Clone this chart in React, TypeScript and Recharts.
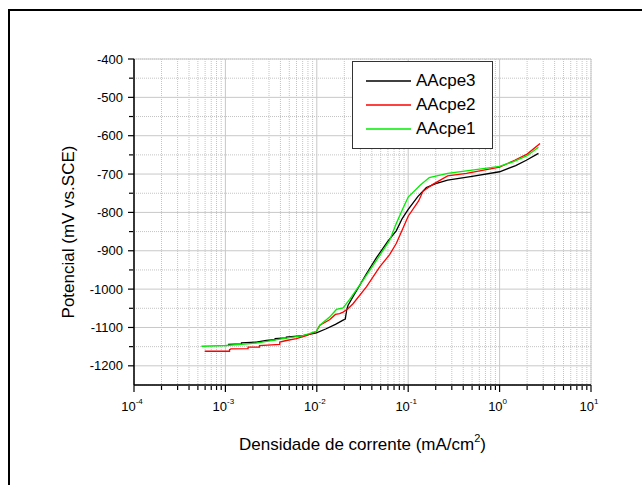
import React from 'react';
import {
  LineChart,
  Line,
  XAxis,
  YAxis,
  CartesianGrid,
  Legend,
} from 'recharts';

// Polarization curves, current density in mA/cm2, potential in mV vs SCE
const aacpe3Current = [
  0.00107, 0.0015, 0.0015, 0.00218, 0.00281, 0.0035, 0.0035, 0.00465, 0.00465, 0.00706,
  0.0099, 0.0125, 0.016, 0.0194, 0.0205, 0.0208, 0.021, 0.0212, 0.022, 0.026, 0.0349,
  0.045, 0.06, 0.074, 0.086, 0.1, 0.128, 0.158, 0.2, 0.27, 0.5, 1.0, 1.5, 1.96, 2.66,
];
const aacpe3Potential = [
  -1144, -1143, -1140, -1138, -1134, -1132, -1129, -1127, -1125, -1121,
  -1114, -1104, -1092, -1081, -1078, -1068, -1062, -1055, -1042, -1012, -960,
  -918, -875, -848, -816, -792, -758, -735, -725, -716, -706, -694, -678, -664, -646,
];

const aacpe2Current = [
  0.000594, 0.00111, 0.00111, 0.00115, 0.00177, 0.00177, 0.00236, 0.00236, 0.00393, 0.00393,
  0.00465, 0.00598, 0.00769, 0.0099, 0.0108, 0.0138, 0.016, 0.0178, 0.0194, 0.0219, 0.0249,
  0.0349, 0.0488, 0.0626, 0.074, 0.086, 0.1, 0.13, 0.145, 0.186, 0.27, 0.434, 1.0, 1.46, 2.0, 2.77,
];
const aacpe2Potential = [
  -1162, -1162, -1158, -1156, -1155, -1151, -1151, -1147, -1144, -1138,
  -1134, -1129, -1121, -1110, -1094, -1080, -1066, -1064, -1060, -1051, -1038,
  -994, -942, -910, -881, -846, -810, -770, -745, -727, -705, -698, -682, -664, -648, -620,
];

const aacpe1Current = [
  0.000546, 0.00102, 0.00218, 0.00427, 0.00706, 0.0099, 0.0108, 0.0138, 0.0164, 0.0194,
  0.0229, 0.032, 0.0449, 0.0626, 0.074, 0.086, 0.1, 0.135, 0.17, 0.27, 0.5, 1.0, 1.4, 2.0, 2.66,
];
const aacpe1Potential = [
  -1149, -1147, -1141, -1129, -1121, -1110, -1094, -1073, -1053, -1049,
  -1027, -977, -925, -873, -829, -794, -760, -729, -709, -698, -690, -680, -668, -652, -630,
];

const xDomain = [0.0001, 10];
const yDomain = [-1250, -400];
const xMajorTicks = [0.0001, 0.001, 0.01, 0.1, 1, 10];
const xMinorTicks = [
  0.0002, 0.0003, 0.0004, 0.0005, 0.0006, 0.0007, 0.0008, 0.0009,
  0.002, 0.003, 0.004, 0.005, 0.006, 0.007, 0.008, 0.009,
  0.02, 0.03, 0.04, 0.05, 0.06, 0.07, 0.08, 0.09,
  0.2, 0.3, 0.4, 0.5, 0.6, 0.7, 0.8, 0.9,
  2, 3, 4, 5, 6, 7, 8, 9,
];
const yMajorTicks = [-400, -500, -600, -700, -800, -900, -1000, -1100, -1200];
const yMinorTicks = [-450, -550, -650, -750, -850, -950, -1050, -1150];

const toPoints = (xs: number[], ys: number[]) => xs.map((x, i) => ({ x, y: ys[i] }));

const series = [
  { name: 'AAcpe3', color: '#000000', data: toPoints(aacpe3Current, aacpe3Potential) },
  { name: 'AAcpe2', color: '#ff0000', data: toPoints(aacpe2Current, aacpe2Potential) },
  { name: 'AAcpe1', color: '#00ee00', data: toPoints(aacpe1Current, aacpe1Potential) },
];

const font = '"Liberation Sans", Arial, sans-serif';

const DecadeTick = (props: any) => {
  const { x, y, payload } = props;
  const exp = Math.round(Math.log10(payload.value));
  return (
    <text x={x - 2} y={y} textAnchor="middle" fontSize={13} fontFamily={font} fill="#000">
      <tspan dy={18}>10</tspan>
      <tspan fontSize={8} dy={-7}>{exp}</tspan>
    </text>
  );
};

const NoTick = () => <g />;

const XTitle = (props: any) => {
  const { viewBox } = props;
  return (
    <text
      x={viewBox.x + viewBox.width / 2}
      y={viewBox.y + 65}
      textAnchor="middle"
      fontSize={17}
      fontFamily={font}
      fill="#000"
    >
      Densidade de corrente (mA/cm
      <tspan fontSize={11} dy={-8}>2</tspan>
      <tspan dy={8}>)</tspan>
    </text>
  );
};

const YTitle = (props: any) => {
  const { viewBox } = props;
  const cx = viewBox.x - 59;
  const cy = viewBox.y + viewBox.height / 2 + 10;
  return (
    <text
      x={cx}
      y={cy}
      transform={`rotate(-90, ${cx}, ${cy})`}
      textAnchor="middle"
      fontSize={17}
      fontFamily={font}
      fill="#000"
    >
      Potencial (mV vs.SCE)
    </text>
  );
};

const LegendBox = () => (
  <div
    style={{
      width: 141,
      height: 88,
      boxSizing: 'border-box',
      border: '1.5px solid #333',
      background: '#fff',
      paddingTop: 7,
      fontFamily: font,
    }}
  >
    {series.map((s) => (
      <div key={s.name} style={{ display: 'flex', alignItems: 'center', height: 24 }}>
        <svg width={45} height={4} style={{ marginLeft: 13, display: 'block' }}>
          <line x1={0} y1={2} x2={45} y2={2} stroke={s.color} strokeWidth={1.5} />
        </svg>
        <span style={{ marginLeft: 5, fontSize: 17, color: '#000', lineHeight: '24px' }}>
          {s.name}
        </span>
      </div>
    ))}
  </div>
);

const App = () => {
  return (
    <div
      style={{
        position: 'absolute',
        left: 0,
        top: 0,
        width: 642,
        height: 485,
        overflow: 'hidden',
        background: '#fff',
      }}
    >
      <div
        style={{
          position: 'absolute',
          left: 8,
          top: 9,
          width: 700,
          height: 600,
          borderLeft: '2px solid #000',
          borderTop: '2px solid #000',
        }}
      />
      <div style={{ position: 'absolute', left: 0, top: 0 }}>
        <LineChart width={642} height={485} margin={{ top: 59, right: 51, bottom: 98, left: 132 }}>
          <CartesianGrid
            xAxisId="minor"
            yAxisId="minor"
            stroke="#c4c4c4"
            strokeDasharray="1 1"
          />
          <CartesianGrid xAxisId="major" yAxisId="major" stroke="#c8c8c8" strokeWidth={1} />
          <XAxis
            xAxisId="major"
            type="number"
            dataKey="x"
            scale="log"
            domain={xDomain}
            allowDataOverflow
            ticks={xMajorTicks}
            height={1}
            axisLine={{ stroke: '#000', strokeWidth: 1.5 }}
            tickLine={{ stroke: '#000', strokeWidth: 1.2 }}
            tickSize={7}
            tickMargin={1}
            tick={DecadeTick}
            interval={0}
            label={<XTitle />}
          />
          <XAxis
            xAxisId="minor"
            type="number"
            dataKey="x"
            scale="log"
            domain={xDomain}
            allowDataOverflow
            ticks={xMinorTicks}
            height={1}
            axisLine={false}
            tickLine={{ stroke: '#000', strokeWidth: 1.2 }}
            tickSize={4}
            tick={NoTick}
            interval={0}
          />
          <YAxis
            yAxisId="major"
            type="number"
            domain={yDomain}
            allowDataOverflow
            ticks={yMajorTicks}
            width={1}
            axisLine={{ stroke: '#000', strokeWidth: 1.5 }}
            tickLine={{ stroke: '#000', strokeWidth: 1.2 }}
            tickSize={6}
            tickMargin={5}
            tick={{ fontSize: 13, fontFamily: font, fill: '#000' }}
            interval={0}
            label={<YTitle />}
          />
          <YAxis
            yAxisId="minor"
            type="number"
            domain={yDomain}
            allowDataOverflow
            ticks={yMinorTicks}
            width={1}
            axisLine={false}
            tickLine={{ stroke: '#000', strokeWidth: 1.2 }}
            tickSize={4}
            tick={NoTick}
            interval={0}
          />
          <Legend
            layout="vertical"
            align="center"
            verticalAlign="middle"
            content={<LegendBox />}
            wrapperStyle={{ left: 352, top: 61, width: 141, height: 88 }}
          />
          {series.map((s) => (
            <Line
              key={s.name}
              xAxisId="major"
              yAxisId="major"
              data={s.data}
              dataKey="y"
              name={s.name}
              type="linear"
              stroke={s.color}
              strokeWidth={1.3}
              dot={false}
              isAnimationActive={false}
            />
          ))}
        </LineChart>
      </div>
    </div>
  );
};

export default App;
